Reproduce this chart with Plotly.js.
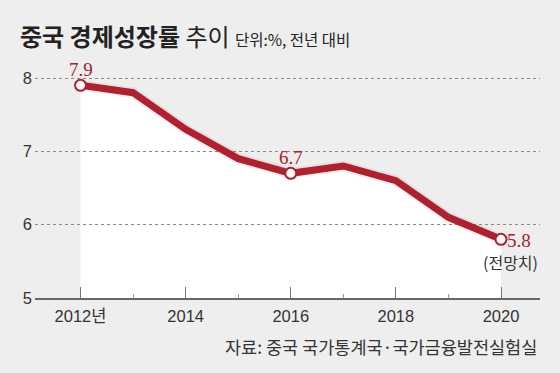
<!DOCTYPE html>
<html>
<head>
<meta charset="utf-8">
<script src="https://cdn.plot.ly/plotly-3.0.1.min.js"></script>
<style>
  html, body { margin: 0; padding: 0; background: #eeeeee; }
  #chart { width: 560px; height: 373px; }
</style>
</head>
<body>
<div id="chart"></div>
<script>
// ---- data ----
const years = [2012, 2013, 2014, 2015, 2016, 2017, 2018, 2019, 2020];
const growth = [7.9, 7.8, 7.3, 6.9, 6.7, 6.8, 6.6, 6.1, 5.8];
const tickYears = [2012, 2014, 2016, 2018, 2020];
const tickLabels = ['2012년', '2014', '2016', '2018', '2020'];
const minorYears = [2013, 2015, 2017, 2019];
const yTicks = [5, 6, 7, 8];
const labeledYears = [2012, 2016, 2020];
const forecastNote = '(전망치)';
const titleMain = '중국 경제성장률';
const titleSub = '추이';
const titleUnit = '단위:%, 전년 대비';
const sourceText = '자료: 중국 국가통계국·국가금융발전실험실';

const RED = '#b21f2e';
const LABEL_RED = '#a8202d';
const yMin = 5;

// white area under the line (drawn below the grid)
let path = 'M ' + years[0] + ',' + yMin;
years.forEach((x, i) => { path += ' L ' + x + ',' + growth[i]; });
path += ' L ' + years[years.length - 1] + ',' + yMin + ' Z';

const labeledVals = labeledYears.map(y => growth[years.indexOf(y)]);

const traces = [
  {
    x: years, y: growth, type: 'scatter', mode: 'lines',
    line: { color: 'rgba(0,0,0,0.05)', width: 11 },
    hoverinfo: 'skip'
  },
  {
    x: years, y: growth, type: 'scatter', mode: 'lines',
    line: { color: RED, width: 7 },
    hoverinfo: 'skip'
  },
  {
    x: labeledYears, y: labeledVals, type: 'scatter', mode: 'markers',
    marker: { size: 11, color: '#ffffff', line: { color: RED, width: 2 } },
    hoverinfo: 'skip'
  }
];

const annotations = [];
labeledYears.forEach((yr, i) => {
  const v = labeledVals[i];
  const last = (i === labeledYears.length - 1);
  annotations.push({
    x: yr, y: v, xref: 'x', yref: 'y',
    text: v.toFixed(1), showarrow: false,
    xanchor: last ? 'left' : 'center', yanchor: 'middle',
    xshift: last ? 4 : 0, yshift: last ? -1 : 16,
    font: { family: 'Liberation Serif, serif', size: 19, color: LABEL_RED }
  });
});
annotations.push({
  x: 1, xref: 'paper', y: growth[growth.length - 1], yref: 'y',
  text: forecastNote, showarrow: false, xanchor: 'right', yanchor: 'middle',
  yshift: -23, font: { family: 'Noto Sans CJK KR', size: 16, color: '#333' }
});
annotations.push({
  x: 1, xref: 'paper', y: 0, yref: 'paper',
  text: sourceText, showarrow: false, xanchor: 'right', yanchor: 'middle',
  xshift: -1, yshift: -48, font: { family: 'Noto Sans CJK KR', size: 17.5, color: '#333' }
});

const layout = {
  width: 560, height: 373,
  paper_bgcolor: '#eeeeee', plot_bgcolor: '#eeeeee',
  margin: { l: 35, r: 20, t: 56, b: 75 },
  showlegend: false,
  font: { family: 'Liberation Sans, Noto Sans CJK KR, sans-serif', color: '#333', size: 16 },
  title: {
    text: '<b>' + titleMain + '</b> ' + titleSub + ' <span style="font-size:15.5px">' + titleUnit + '</span>',
    x: 20 / 560, xref: 'container', xanchor: 'left',
    y: 1 - 38 / 373, yref: 'container', yanchor: 'middle',
    font: { family: 'Noto Sans CJK KR', size: 24, color: '#222' }
  },
  xaxis: {
    range: [2011.134, 2020.742],
    tickvals: tickYears, ticktext: tickLabels,
    ticks: 'inside', ticklen: 11, tickwidth: 1, tickcolor: '#777',
    minor: { tickvals: minorYears, ticks: 'inside', ticklen: 4, tickwidth: 1, tickcolor: '#999', showgrid: false },
    showline: true, linecolor: '#666', linewidth: 1.5,
    showgrid: false, zeroline: false, fixedrange: true,
    ticklabelstandoff: 3,
    tickfont: { family: 'Liberation Sans, Noto Sans CJK KR, sans-serif', size: 16.5, color: '#333' }
  },
  yaxis: {
    range: [yMin, 8.3], tickvals: yTicks,
    showgrid: true, griddash: 'dot', gridcolor: '#888', gridwidth: 1,
    zeroline: false, showline: false, ticks: '', fixedrange: true,
    ticklabelstandoff: 2,
    tickfont: { family: 'Liberation Sans, sans-serif', size: 16.5, color: '#333' }
  },
  shapes: [{
    type: 'path', xref: 'x', yref: 'y', path: path,
    fillcolor: '#ffffff', line: { width: 0 }, layer: 'below'
  }],
  annotations: annotations
};

Plotly.newPlot('chart', traces, layout, { displayModeBar: false, staticPlot: true });
</script>
</body>
</html>
